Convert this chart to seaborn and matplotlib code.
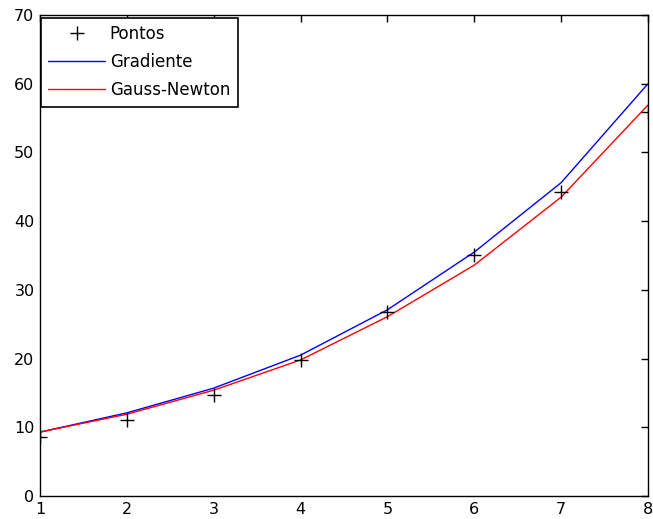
import matplotlib
matplotlib.use("Agg")
import matplotlib.pyplot as plt
import seaborn as sns
import pandas as pd
from matplotlib.lines import Line2D

x = [1, 2, 3, 4, 5, 6, 7, 8]
pontos = [8.6, 11.0, 14.7, 19.8, 26.8, 35.1, 44.2, 55.9]
gradiente = [9.3, 12.1, 15.7, 20.5, 27.1, 35.5, 45.6, 60.0]
gauss_newton = [9.3, 11.9, 15.4, 19.8, 26.1, 33.6, 43.5, 56.9]

sns.set_style("white")
plt.rcParams['font.family'] = ['DejaVu Sans']
plt.rcParams['text.color'] = 'black'

fig = plt.figure(figsize=(6.53, 5.19), dpi=100)
ax = fig.add_axes([40/653, 23/519, 608/653, 481/519])

df = pd.DataFrame({"x": x, "Pontos": pontos, "Gradiente": gradiente, "Gauss-Newton": gauss_newton})

sns.scatterplot(data=df, x="x", y="Pontos", marker="+", s=90, color="black", linewidth=1, ax=ax, legend=False, zorder=3)
sns.lineplot(data=df, x="x", y="Gradiente", color="blue", linewidth=1, ax=ax, legend=False)
sns.lineplot(data=df, x="x", y="Gauss-Newton", color="red", linewidth=1, ax=ax, legend=False)

ax.set_xlim(1, 8)
ax.set_ylim(0, 70)
ax.set_xticks(range(1, 9))
ax.set_yticks(range(0, 71, 10))
ax.set_xlabel("")
ax.set_ylabel("")
for s in ax.spines.values():
    s.set_visible(True)
    s.set_color("black")
    s.set_linewidth(1)
ax.tick_params(direction="in", length=5, width=1, top=True, right=True, labelsize=11.5,
               colors="black", labelcolor="black", pad=4)

handles = [
    Line2D([], [], color="black", marker="+", linestyle="", markersize=10, markeredgewidth=1),
    Line2D([], [], color="blue", linewidth=1),
    Line2D([], [], color="red", linewidth=1),
]
leg = ax.legend(handles, ["Pontos", "Gradiente", "Gauss-Newton"], loc="upper left",
                bbox_to_anchor=(-0.003, 1.0), fontsize=12, fancybox=False, framealpha=1,
                edgecolor="black", borderpad=0.45, handlelength=3.4, labelspacing=0.6,
                handletextpad=0.3, borderaxespad=0.15)
leg.get_frame().set_linewidth(1.2)
for t in leg.get_texts():
    t.set_color("black")

fig.savefig("out.png", dpi=100)
